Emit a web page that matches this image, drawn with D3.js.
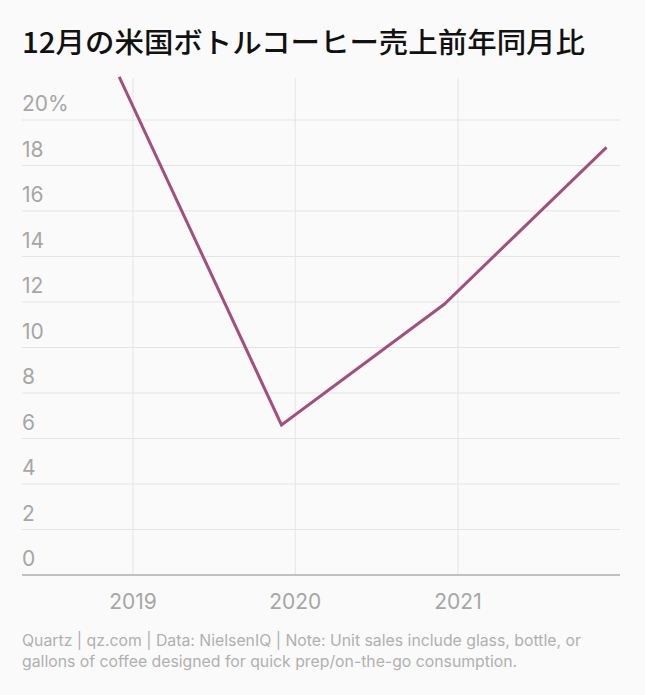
<!DOCTYPE html>
<html><head><meta charset="utf-8">
<script src="https://cdn.jsdelivr.net/npm/d3@7"></script>
<style>body{margin:0;background:#fafafa;}svg{display:block;}</style>
</head><body>
<script>
const dates = ["2018-12-01","2019-12-01","2020-12-01","2021-12-01"];
const values = [21.9, 6.6, 11.9, 18.8];
const yTicks = [0,2,4,6,8,10,12,14,16,18,20];
const xTicks = ["2019-01-01","2020-01-01","2021-01-01"];
const title = "12月の米国ボトルコーヒー売上前年同月比";
const footer = ["Quartz | qz.com | Data: NielsenIQ | Note: Unit sales include glass, bottle, or",
                "gallons of coffee designed for quick prep/on-the-go consumption."];

const W=645,H=695, L=22, R=620;
const parse=d3.timeParse("%Y-%m-%d");
const svg=d3.select("body").append("svg").attr("width",W).attr("height",H);
svg.append("rect").attr("width",W).attr("height",H).attr("fill","#fafafa");
const font="Inter, 'Noto Sans CJK JP', sans-serif";
svg.append("text").attr("x",22).attr("y",53).text(title)
  .attr("font-family","'Noto Sans CJK JP', sans-serif").attr("font-size",28).attr("font-weight",500).attr("fill","#111")
  .attr("textLength",563).attr("lengthAdjust","spacingAndGlyphs");

const x=d3.scaleTime().domain([parse("2019-01-01"),parse("2021-01-01")]).range([133,458]);
const y=d3.scaleLinear().domain([0,20]).range([575,120]);

const g=svg.append("g");
g.selectAll(".vg").data(xTicks).join("line")
  .attr("x1",d=>x(parse(d))).attr("x2",d=>x(parse(d))).attr("y1",78).attr("y2",575)
  .attr("stroke","#e4e4e4");
g.selectAll(".hg").data(yTicks).join("line")
  .attr("x1",L).attr("x2",R).attr("y1",d=>y(d)).attr("y2",d=>y(d))
  .attr("stroke",d=>d===0?"#888":"#e4e4e4");
g.selectAll(".yl").data(yTicks).join("text")
  .attr("x",L).attr("y",d=>y(d)-9).text(d=>d===20?"20%":d)
  .attr("font-family",font).attr("font-size",21).attr("fill","#a6a6a6");
g.selectAll(".xl").data(xTicks).join("text")
  .attr("x",d=>x(parse(d))).attr("y",609).attr("text-anchor","middle").text(d=>d.slice(0,4))
  .attr("font-family",font).attr("font-size",21).attr("fill","#a6a6a6");

const line=d3.line().x(d=>x(parse(d[0]))).y(d=>y(d[1]));
svg.append("path").datum(dates.map((d,i)=>[d,values[i]])).attr("d",line)
  .attr("fill","none").attr("stroke","#a24f80").attr("stroke-width",3);

svg.selectAll(".ft").data(footer).join("text")
  .attr("x",22).attr("y",(d,i)=>646+i*21).text(d=>d)
  .attr("font-family",font).attr("font-size",15.8).attr("fill","#b0b0b0");
</script>
</body></html>
